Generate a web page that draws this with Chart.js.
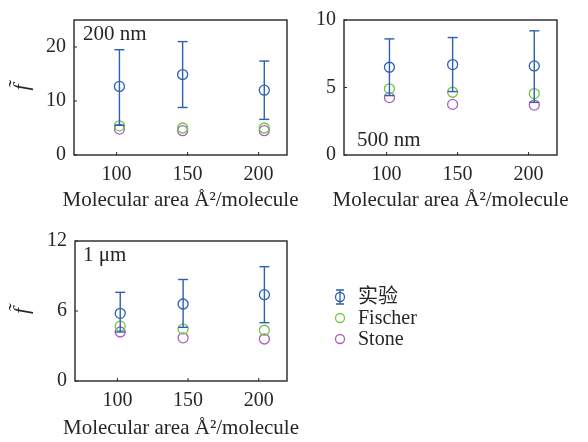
<!DOCTYPE html>
<html>
<head>
<meta charset="utf-8">
<script src="https://cdn.jsdelivr.net/npm/chart.js@4.4.1/dist/chart.umd.min.js"></script>
<style>
  body { margin: 0; background: #fff; }
  .panel { position: absolute; }
</style>
</head>
<body>
<div class="panel" style="left:0;top:0;width:300px;height:220px"><canvas id="g200"></canvas></div>
<div class="panel" style="left:300px;top:0;width:288px;height:220px"><canvas id="g500"></canvas></div>
<div class="panel" style="left:0;top:220px;width:588px;height:222px"><canvas id="g1um"></canvas></div>
<script>
// x positions (molecular area, A^2/molecule)
const areas = [102, 146.5, 204];

// 200 nm
const exp200 = [12.7, 14.9, 12.0];
const exp200Lo = [5.5, 8.8, 6.6];
const exp200Hi = [19.5, 21.0, 17.4];
const fischer200 = [5.4, 5.0, 5.0];
const stone200 = [4.8, 4.5, 4.5];

// 500 nm
const exp500 = [6.5, 6.7, 6.6];
const exp500Lo = [4.4, 4.7, 3.9];
const exp500Hi = [8.6, 8.7, 9.2];
const fischer500 = [4.9, 4.65, 4.55];
const stone500 = [4.25, 3.75, 3.7];

// 1 um
const exp1um = [5.8, 6.6, 7.4];
const exp1umLo = [4.2, 4.6, 5.0];
const exp1umHi = [7.6, 8.7, 9.8];
const fischer1um = [4.7, 4.45, 4.35];
const stone1um = [4.2, 3.7, 3.6];

const xTicks = [100, 150, 200];
const yTicks200 = [0, 10, 20];
const yTicks500 = [0, 5, 10];
const yTicks1um = [0, 6, 12];

const xTitle = 'Molecular area Å²/molecule';

const blue = '#2f5fb3';
const green = '#72c545';
const purple = '#ad5cbe';
const ink = '#262626';
const serif = "'Liberation Serif', 'Noto Sans CJK SC', serif";

function pts(ys) {
  return ys.map(function(y, i) { return { x: areas[i], y: y } });
}

function barPts(lo, hi) {
  let out = [];
  for (let i = 0; i < areas.length; i++) {
    out.push({ x: areas[i], y: lo[i] });
    out.push({ x: areas[i], y: hi[i] });
    out.push({ x: areas[i], y: null });
  }
  return out;
}

// box around the plot + inward ticks + panel label + x title
// (chart.js squeezes a title to the axis width, this one is wider than the axis)
const framePlugin = {
  id: 'frame',
  afterDraw(chart, args, opts) {
    const c = chart.ctx;
    const a = chart.chartArea;
    c.save();
    c.strokeStyle = ink;
    c.lineWidth = 1.4;
    c.strokeRect(a.left, a.top, a.right - a.left, a.bottom - a.top);
    c.lineWidth = 1;
    chart.scales.x.ticks.forEach(function(t) {
      const px = chart.scales.x.getPixelForValue(t.value);
      c.beginPath(); c.moveTo(px, a.bottom); c.lineTo(px, a.bottom - 3); c.stroke();
    });
    chart.scales.y.ticks.forEach(function(t) {
      const py = chart.scales.y.getPixelForValue(t.value);
      c.beginPath(); c.moveTo(a.left, py); c.lineTo(a.left + 3, py); c.stroke();
    });
    c.fillStyle = ink;
    c.font = '21px ' + serif;
    c.textBaseline = 'middle';
    c.fillText(opts.label, a.left + opts.dx, a.top + opts.dy);
    c.textAlign = 'center';
    c.fillText(xTitle, (a.left + a.right) / 2, a.bottom + opts.ty);
    c.restore();
  }
};

// legend drawn next to the third panel
const legendPlugin = {
  id: 'sideLegend',
  afterDraw(chart, args, opts) {
    if (!opts.show) return;
    const c = chart.ctx;
    const a = chart.chartArea;
    const mx = a.right + 53;
    const tx = a.right + 71;
    const rows = [a.top + 56, a.top + 77, a.top + 98];
    const ds = chart.data.datasets;
    c.save();
    c.font = '20px ' + serif;
    c.textBaseline = 'middle';
    c.lineWidth = 1.3;
    // 实验 with error bar
    c.strokeStyle = blue;
    c.beginPath();
    c.moveTo(mx, rows[0] - 7); c.lineTo(mx, rows[0] + 7);
    c.moveTo(mx - 4, rows[0] - 7); c.lineTo(mx + 4, rows[0] - 7);
    c.moveTo(mx - 4, rows[0] + 7); c.lineTo(mx + 4, rows[0] + 7);
    c.stroke();
    [1, 2, 3].forEach(function(k, i) {
      c.strokeStyle = ds[k].borderColor;
      c.beginPath(); c.arc(mx, rows[i], 4.5, 0, Math.PI * 2); c.stroke();
      c.fillStyle = ink;
      c.fillText(ds[k].label, tx, rows[i] + 1);
    });
    c.restore();
  }
};

function makeChart(id, cfg) {
  return new Chart(document.getElementById(id), {
    type: 'scatter',
    data: {
      datasets: [
        {
          type: 'line', label: 'err', data: barPts(cfg.lo, cfg.hi),
          borderColor: blue, borderWidth: 1.4, spanGaps: false,
          pointStyle: 'line', pointRadius: 5, pointBorderWidth: 1.4,
          pointBorderColor: blue, pointHoverRadius: 0
        },
        { label: '实验', data: pts(cfg.exp), borderColor: blue, backgroundColor: 'transparent',
          pointRadius: 5, pointBorderWidth: 1.3 },
        { label: 'Fischer', data: pts(cfg.fischer), borderColor: green, backgroundColor: 'transparent',
          pointRadius: 5, pointBorderWidth: 1.3 },
        { label: 'Stone', data: pts(cfg.stone), borderColor: purple, backgroundColor: 'transparent',
          pointRadius: 5, pointBorderWidth: 1.3 }
      ]
    },
    options: {
      responsive: true,
      maintainAspectRatio: false,
      animation: false,
      events: [],
      layout: { padding: cfg.pad },
      plugins: {
        legend: { display: false },
        tooltip: { enabled: false },
        frame: { label: cfg.label, dx: cfg.ldx, dy: cfg.ldy, ty: cfg.ty },
        sideLegend: { show: !!cfg.legend }
      },
      scales: {
        x: {
          type: 'linear', min: 70, max: 220,
          afterBuildTicks: function(s) { s.ticks = xTicks.map(function(v) { return { value: v } }) },
          afterFit: function(s) { s.height = cfg.xh },
          grid: { display: false, drawTicks: false }, border: { display: false },
          ticks: { color: ink, font: { family: serif, size: 20 }, padding: 8, maxRotation: 0 },
          title: { display: false }
        },
        y: {
          type: 'linear', min: 0, max: cfg.ymax,
          afterBuildTicks: function(s) { s.ticks = cfg.yTicks.map(function(v) { return { value: v } }) },
          afterFit: function(s) { s.width = cfg.yw },
          grid: { display: false, drawTicks: false }, border: { display: false },
          ticks: { color: ink, font: { family: serif, size: 20 }, padding: 8 },
          title: { display: cfg.ytitle, text: 'f\u0303', color: ink,
                   font: { family: serif, size: 22, style: 'italic' }, padding: { top: 9, bottom: 0 } }
        }
      }
    },
    plugins: [framePlugin, legendPlugin]
  });
}

makeChart('g200', {
  exp: exp200, lo: exp200Lo, hi: exp200Hi, fischer: fischer200, stone: stone200,
  ymax: 25, yTicks: yTicks200, label: '200 nm', ldx: 9, ldy: 14, ytitle: true,
  pad: { left: 0, top: 15, right: 13, bottom: 0 }, xh: 65, yw: 74, ty: 45
});

makeChart('g500', {
  exp: exp500, lo: exp500Lo, hi: exp500Hi, fischer: fischer500, stone: stone500,
  ymax: 10, yTicks: yTicks500, label: '500 nm', ldx: 13, ldy: 120, ytitle: false,
  pad: { left: 0, top: 15, right: 31, bottom: 0 }, xh: 65, yw: 44, ty: 45
});

makeChart('g1um', {
  exp: exp1um, lo: exp1umLo, hi: exp1umHi, fischer: fischer1um, stone: stone1um,
  ymax: 12, yTicks: yTicks1um, label: '1 μm', ldx: 8, ldy: 14, ytitle: true, legend: true,
  pad: { left: 0, top: 21, right: 301, bottom: 0 }, xh: 61, yw: 75, ty: 47
});
</script>
</body>
</html>
